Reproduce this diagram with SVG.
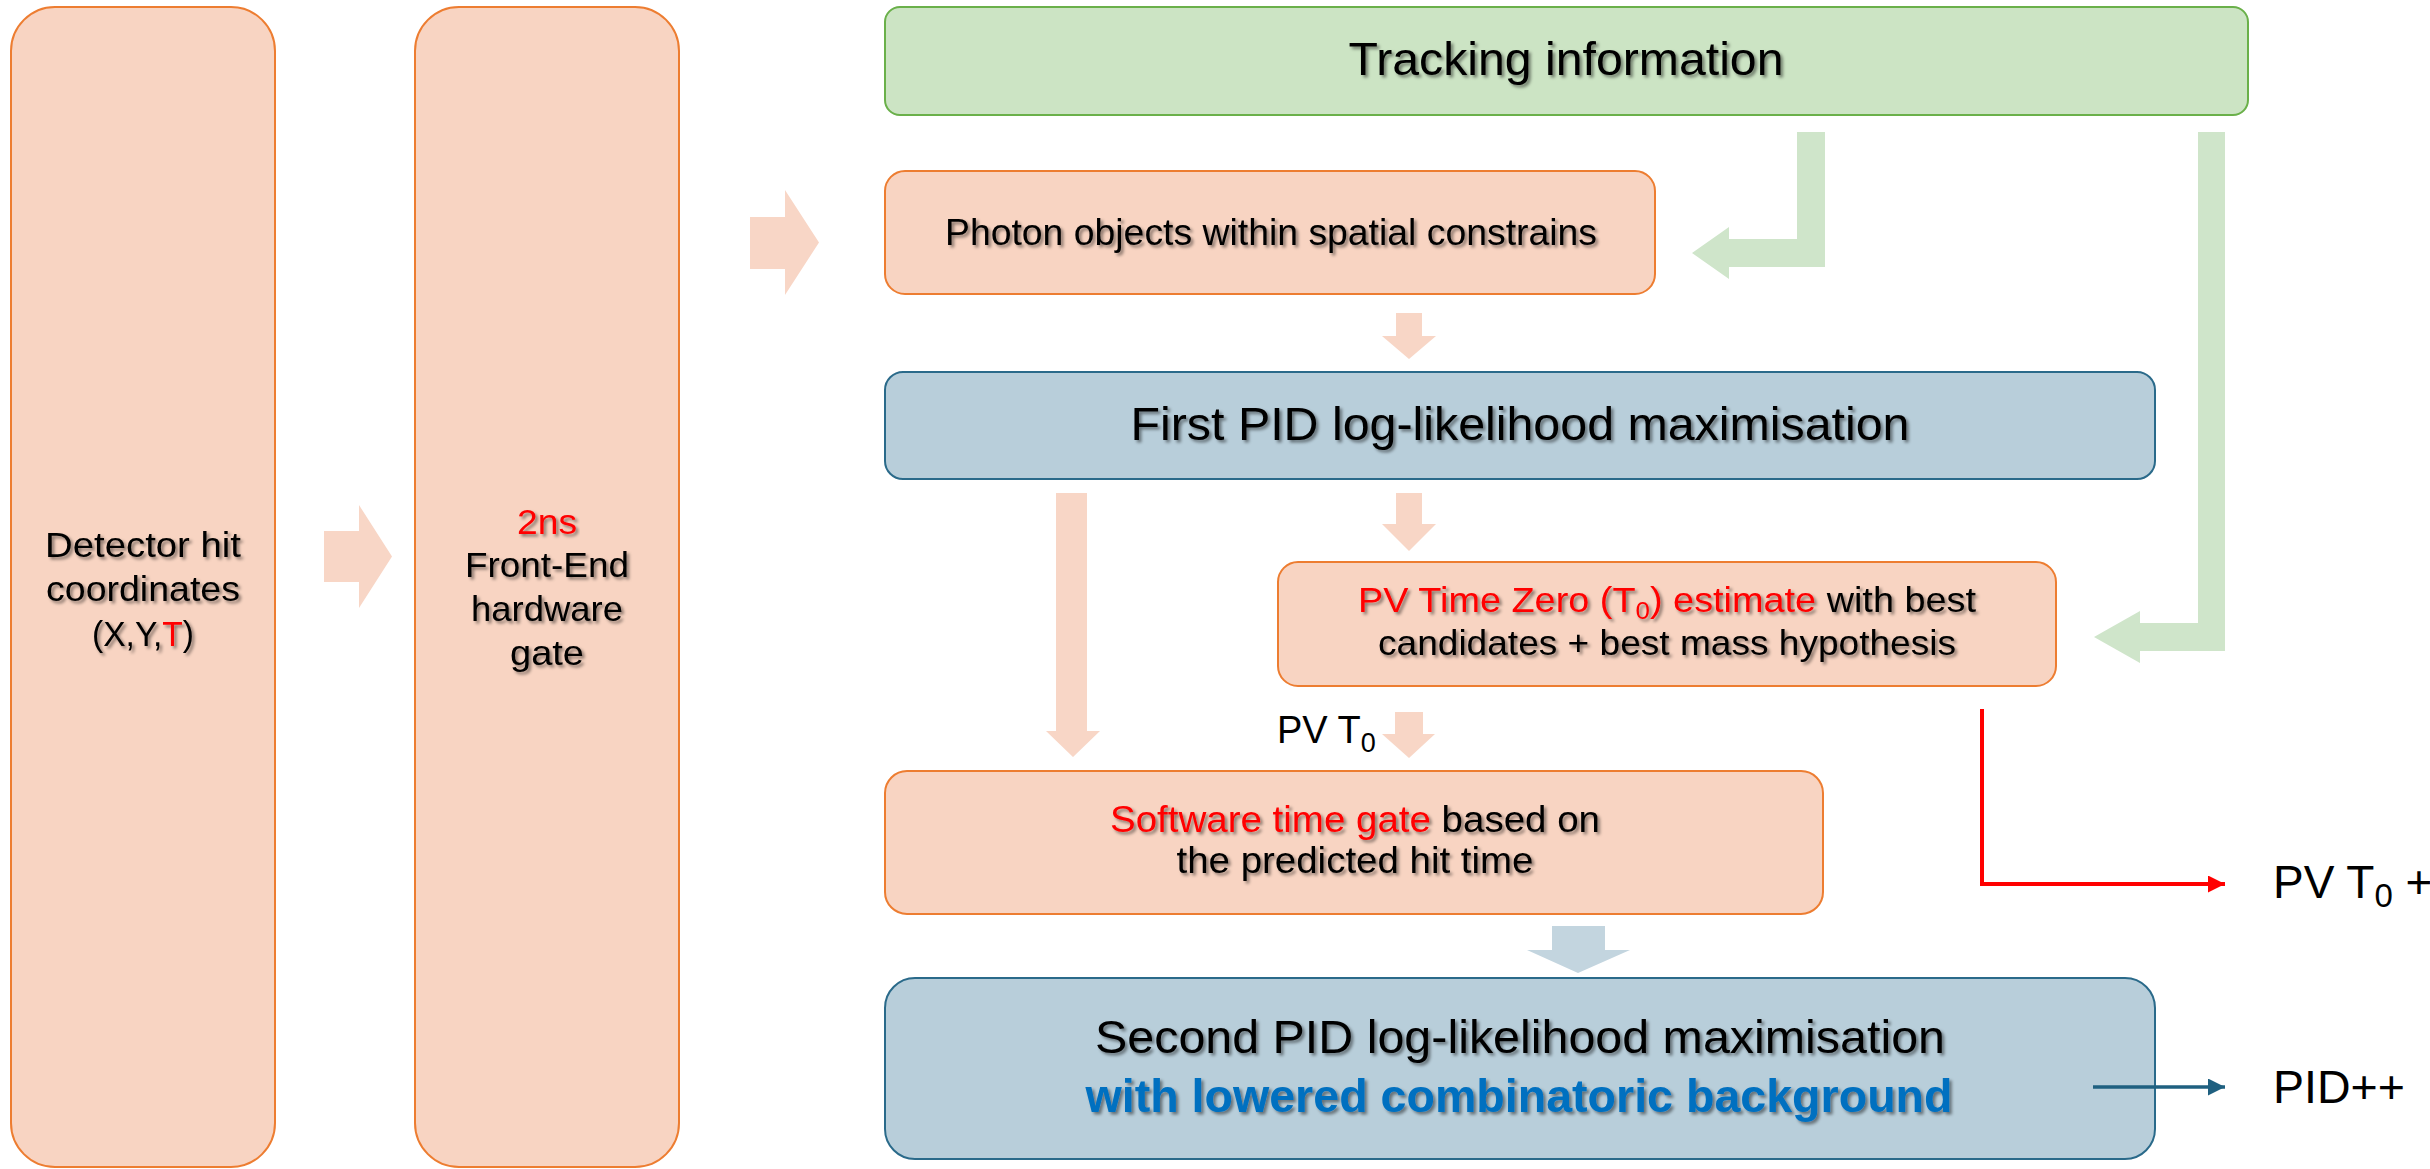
<svg xmlns="http://www.w3.org/2000/svg" width="2430" height="1169" viewBox="0 0 2430 1169">
  <style>
    .peach { fill: #F8D4C2; stroke: #ED7D31; stroke-width: 2; }
    .green { fill: #CCE4C4; stroke: #6AB04A; stroke-width: 2; }
    .steel { fill: #B8CEDA; stroke: #2A6A8A; stroke-width: 2; }
    .arrow-peach { fill: #F8D6C6; }
    .arrow-green { fill: #CFE5CA; }
    .arrow-steel { fill: #C3D5DF; }
    text { font-family: "Liberation Sans", Arial, sans-serif; fill: #000; }
    .label { filter: url(#shadow); }
    .red { fill: #FF0000; }
    .blue { fill: #0070C0; font-weight: bold; }
    .mid { text-anchor: middle; }
  </style>
  <defs>
    <filter id="shadow" x="-5%" y="-30%" width="110%" height="160%">
      <feDropShadow dx="2.5" dy="2.5" stdDeviation="1.4" flood-color="#000" flood-opacity="0.45"/>
    </filter>
    <marker id="head-red" viewBox="0 0 16 16" refX="16" refY="8" markerUnits="userSpaceOnUse" markerWidth="17" markerHeight="17" orient="auto">
      <path d="M0,0 L16,8 L0,16 Z" fill="#FF0000"/>
    </marker>
    <marker id="head-blue" viewBox="0 0 16 16" refX="16" refY="8" markerUnits="userSpaceOnUse" markerWidth="17" markerHeight="17" orient="auto">
      <path d="M0,0 L16,8 L0,16 Z" fill="#1F6080"/>
    </marker>
  </defs>

  <rect width="2430" height="1169" fill="#FFFFFF"/>

  <g id="node-hits">
    <rect class="peach" x="11" y="7" width="264" height="1160" rx="44"/>
    <text class="label mid" font-size="35" x="143" y="557" textLength="196" lengthAdjust="spacingAndGlyphs">Detector hit</text>
    <text class="label mid" font-size="35" x="143" y="601" textLength="194" lengthAdjust="spacingAndGlyphs">coordinates</text>
    <text class="label mid" font-size="35" x="143" y="646" textLength="102" lengthAdjust="spacingAndGlyphs">(X,Y,<tspan class="red">T</tspan>)</text>
  </g>

  <g id="node-frontend">
    <rect class="peach" x="415" y="7" width="264" height="1160" rx="44"/>
    <text class="label mid red" font-size="35" x="547" y="534" textLength="60" lengthAdjust="spacingAndGlyphs">2ns</text>
    <text class="label mid" font-size="35" x="547" y="577" textLength="164" lengthAdjust="spacingAndGlyphs">Front-End</text>
    <text class="label mid" font-size="35" x="547" y="621" textLength="152" lengthAdjust="spacingAndGlyphs">hardware</text>
    <text class="label mid" font-size="35" x="547" y="665" textLength="74" lengthAdjust="spacingAndGlyphs">gate</text>
  </g>

  <g id="node-tracking">
    <rect class="green" x="885" y="7" width="1363" height="108" rx="15"/>
    <text class="label mid" font-size="47" x="1566" y="75" textLength="435" lengthAdjust="spacingAndGlyphs">Tracking information</text>
  </g>

  <g id="node-photons">
    <rect class="peach" x="885" y="171" width="770" height="123" rx="20"/>
    <text class="label mid" font-size="37" x="1271" y="245" textLength="652" lengthAdjust="spacingAndGlyphs">Photon objects within spatial constrains</text>
  </g>

  <g id="node-first-pid">
    <rect class="steel" x="885" y="372" width="1270" height="107" rx="18"/>
    <text class="label mid" font-size="46" x="1520" y="440" textLength="779" lengthAdjust="spacingAndGlyphs">First PID log-likelihood maximisation</text>
  </g>

  <g id="node-t0">
    <rect class="peach" x="1278" y="562" width="778" height="124" rx="20"/>
    <text class="label" font-size="35" x="1358" y="612" textLength="618" lengthAdjust="spacingAndGlyphs"><tspan class="red">PV Time Zero (T<tspan font-size="24" dy="7">0</tspan><tspan dy="-7">) estimate</tspan></tspan> with best</text>
    <text class="label mid" font-size="35" x="1667" y="655" textLength="578" lengthAdjust="spacingAndGlyphs">candidates + best mass hypothesis</text>
  </g>

  <g id="label-pv-t0">
    <text font-size="38" x="1277" y="743">PV T<tspan font-size="27" dy="9">0</tspan></text>
  </g>

  <g id="node-software-gate">
    <rect class="peach" x="885" y="771" width="938" height="143" rx="22"/>
    <text class="label" font-size="37" x="1110" y="832" textLength="490" lengthAdjust="spacingAndGlyphs"><tspan class="red">Software time gate</tspan> based on</text>
    <text class="label mid" font-size="37" x="1355" y="873" textLength="357" lengthAdjust="spacingAndGlyphs">the predicted hit time</text>
  </g>

  <g id="node-second-pid">
    <rect class="steel" x="885" y="978" width="1270" height="181" rx="30"/>
    <text class="label mid" font-size="46" x="1520" y="1053" textLength="850" lengthAdjust="spacingAndGlyphs">Second PID log-likelihood maximisation</text>
    <text class="label mid blue" font-size="46" x="1519" y="1112" textLength="867" lengthAdjust="spacingAndGlyphs">with lowered combinatoric background</text>
  </g>

  <g id="node-out-t0">
    <text font-size="46" x="2273" y="898">PV T<tspan font-size="33" dy="9">0</tspan><tspan dy="-9"> +</tspan></text>
  </g>

  <g id="node-out-pid">
    <text font-size="46" x="2273" y="1103" textLength="132" lengthAdjust="spacingAndGlyphs">PID++</text>
  </g>

  <!-- connectors, drawn last so the PID output line sits over its box -->
  <g id="connectors">
    <!-- hits -> front-end gate -->
    <polygon class="arrow-peach" points="324,531 359,531 359,505 392,556.5 359,608 359,582 324,582"/>
    <!-- front-end gate -> photon objects -->
    <polygon class="arrow-peach" points="750,217 785,217 785,190 819,242.5 785,295 785,269 750,269"/>
    <!-- tracking -> photon objects (elbow) -->
    <polygon class="arrow-green" points="1797,132 1825,132 1825,267 1729,267 1729,279 1692,253 1729,227 1729,239 1797,239"/>
    <!-- tracking -> T0 estimate (elbow) -->
    <polygon class="arrow-green" points="2198,132 2225,132 2225,651 2140,651 2140,663 2094,637 2140,611 2140,623 2198,623"/>
    <!-- photon objects -> first PID -->
    <polygon class="arrow-peach" points="1396,313 1422,313 1422,336 1436,336 1409,359 1382,336 1396,336"/>
    <!-- first PID -> T0 estimate -->
    <polygon class="arrow-peach" points="1396,493 1422,493 1422,524 1436,524 1409,551 1382,524 1396,524"/>
    <!-- T0 estimate -> software gate -->
    <polygon class="arrow-peach" points="1395,712 1423,712 1423,734 1435,734 1409,758 1382,734 1395,734"/>
    <!-- first PID -> software gate -->
    <polygon class="arrow-peach" points="1056,493 1087,493 1087,731 1100,731 1073,757 1046,731 1056,731"/>
    <!-- software gate -> second PID -->
    <polygon class="arrow-steel" points="1552,926 1605,926 1605,950 1630,950 1578,973 1527,950 1552,950"/>
    <!-- T0 output -->
    <polyline points="1982,709 1982,884 2225,884" fill="none" stroke="#FF0000" stroke-width="4" marker-end="url(#head-red)"/>
    <!-- PID output -->
    <line x1="2093" y1="1087" x2="2225" y2="1087" stroke="#1F6080" stroke-width="3.5" marker-end="url(#head-blue)"/>
  </g>
</svg>
